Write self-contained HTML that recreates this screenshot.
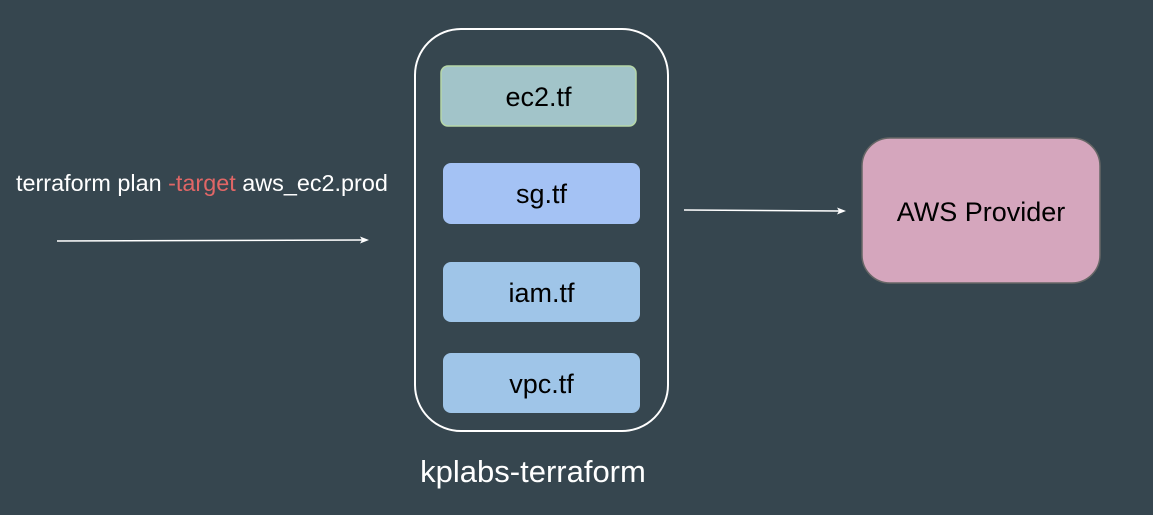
<!DOCTYPE html>
<html><head><style>body{margin:0;background:#36464f}svg{display:block}</style></head>
<body>
<svg width="1153" height="515" xmlns="http://www.w3.org/2000/svg" font-family="Liberation Sans, Arial, sans-serif">
<rect width="1153" height="515" fill="#36464f"/>
<rect x="415" y="29" width="253" height="402" rx="46" fill="none" stroke="#fff" stroke-width="2"/>
<rect x="441" y="66" width="195" height="60" rx="7" fill="#a2c4c9" stroke="#b6d7a8" stroke-width="1.5"/>
<text x="538.5" y="106" font-size="27" text-anchor="middle" fill="#000">ec2.tf</text>
<rect x="443" y="163" width="197" height="61" rx="8" fill="#a4c2f4"/>
<text x="541.5" y="203" font-size="27" text-anchor="middle" fill="#000">sg.tf</text>
<rect x="443" y="262" width="197" height="60" rx="8" fill="#9fc5e8"/>
<text x="541.5" y="302" font-size="27" text-anchor="middle" fill="#000">iam.tf</text>
<rect x="443" y="353" width="197" height="60" rx="8" fill="#9fc5e8"/>
<text x="541.5" y="393" font-size="27" text-anchor="middle" fill="#000">vpc.tf</text>
<text x="533" y="482" font-size="31" text-anchor="middle" fill="#fff">kplabs-terraform</text>
<rect x="862" y="138" width="238" height="145" rx="28" fill="#d5a6bd" stroke="#666" stroke-width="1.5"/>
<text x="981" y="221" font-size="27" text-anchor="middle" fill="#000">AWS Provider</text>
<text x="16" y="191" font-size="23.4" fill="#fff">terraform plan <tspan fill="#e06666">-target</tspan> aws_ec2.prod</text>
<line x1="57" y1="241" x2="362" y2="240" stroke="#fff" stroke-width="1.5"/>
<polygon points="369,240 360,236.5 362,240 360,243.5" fill="#fff"/>
<line x1="684" y1="210" x2="839" y2="211" stroke="#fff" stroke-width="1.5"/>
<polygon points="846,211 837,207.5 839,211 837,214.5" fill="#fff"/>
</svg>
</body></html>
